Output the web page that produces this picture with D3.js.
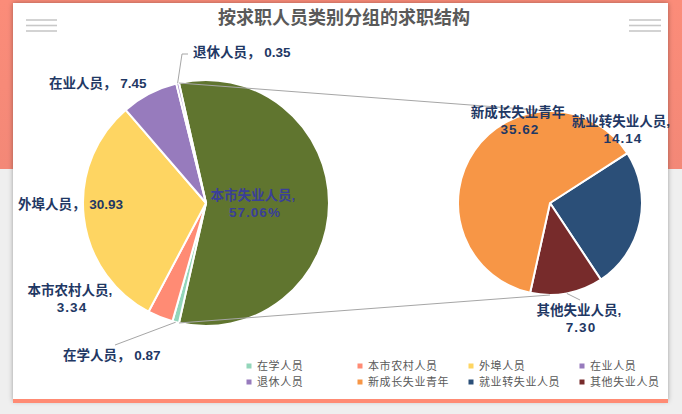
<!DOCTYPE html>
<html>
  <head>
    <meta charset="utf-8">
    <script type="text/javascript" src="https://d3js.org/d3.v7.min.js"></script>
    <style>
      body { margin:0; background:#efefef; }
      text { font-family:"Noto Sans CJK SC", "Noto Sans", sans-serif; }
      text.lbl { font-family:"Liberation Sans", "Noto Sans CJK SC", sans-serif; }
    </style>
  </head>
  <body>
  </body>
  <script>

// datos: primer pastel (todas las personas que buscan trabajo)
var cat1 = ["本市失业人员", "在学人员", "本市农村人员", "外埠人员", "在业人员", "退休人员"];
var val1 = [57.06, 0.87, 3.34, 30.93, 7.45, 0.35];
var col1 = ["#60752f", "#93d6ba", "#ff8b74", "#fed562", "#977bbd", "#9b80c2"];

// segundo pastel: desglose de 本市失业人员
var cat2 = ["就业转失业人员", "其他失业人员", "新成长失业青年"];
var val2 = [14.14, 7.30, 35.62];
var col2 = ["#2b4f78", "#772b2b", "#f79646"];

// orden de la leyenda
var legendCats = ["在学人员", "本市农村人员", "外埠人员", "在业人员", "退休人员", "新成长失业青年", "就业转失业人员", "其他失业人员"];
var legendCols = ["#93d6ba", "#ff8b74", "#fed562", "#977bbd", "#977bbd", "#f79646", "#2b4f78", "#772b2b"];

var title = "按求职人员类别分组的求职结构";

window.onload = function(){
  var W = 682, H = 414;
  var svg = d3.select("body").append("svg").attr("width", W).attr("height", H);

  // fondo
  var defs = svg.append("defs");
  var g1 = defs.append("linearGradient").attr("id", "coral").attr("x1", 0).attr("x2", 0).attr("y1", 0).attr("y2", 1);
  g1.append("stop").attr("offset", "0%").attr("stop-color", "#fb8c79");
  g1.append("stop").attr("offset", "100%").attr("stop-color", "#f38877");
  var f = defs.append("filter").attr("id", "sh").attr("x", "-5%").attr("y", "-5%").attr("width", "110%").attr("height", "110%");
  f.append("feDropShadow").attr("dx", 0).attr("dy", 0).attr("stdDeviation", 2.5).attr("flood-color", "#000").attr("flood-opacity", 0.35);

  svg.append("rect").attr("width", W).attr("height", H).attr("fill", "#efefef");
  svg.append("rect").attr("width", W).attr("height", 169).attr("fill", "url(#coral)");
  svg.append("rect").attr("x", 13).attr("y", 3).attr("width", 655).attr("height", 398)
     .attr("fill", "#fff").attr("filter", "url(#sh)");
  svg.append("rect").attr("x", 13).attr("y", 399).attr("width", 655).attr("height", 4).attr("fill", "#ff8b74");

  // iconos de menú
  [[26, 57], [629, 661]].forEach(function(p){
    [20, 25.5, 31].forEach(function(y){
      svg.append("line").attr("x1", p[0]).attr("x2", p[1]).attr("y1", y).attr("y2", y)
         .attr("stroke", "#c8c8c8").attr("stroke-width", 1.6);
    });
  });

  svg.append("text").attr("x", 344).attr("y", 18).attr("dy", "0.35em")
     .attr("text-anchor", "middle").attr("font-size", 18).attr("font-weight", "bold")
     .attr("fill", "#595959").text(title);

  // pastel 1
  var c1 = [206, 203], r1 = 123;
  var tot1 = d3.sum(val1);
  var a0 = Math.PI/2 - val1[0]/tot1*Math.PI;
  var pie1 = d3.pie().sort(null).startAngle(a0).endAngle(a0 + 2*Math.PI);
  var arcs1 = pie1(val1);
  var arc1 = d3.arc().innerRadius(0).outerRadius(r1);
  var gp1 = svg.append("g").attr("transform", "translate(" + c1 + ")");
  gp1.selectAll("path").data(arcs1).enter().append("path")
     .attr("d", arc1).attr("fill", function(d, i){ return col1[i]; })
     .attr("stroke", "#fff").attr("stroke-width", 2);

  // pastel 2
  var c2 = [550, 203], r2 = 92;
  var b0 = 57.2 * Math.PI / 180;
  var pie2 = d3.pie().sort(null).startAngle(b0).endAngle(b0 + 2*Math.PI);
  var arcs2 = pie2(val2);
  var arc2 = d3.arc().innerRadius(0).outerRadius(r2);
  var gp2 = svg.append("g").attr("transform", "translate(" + c2 + ")");
  gp2.selectAll("path").data(arcs2).enter().append("path")
     .attr("d", arc2).attr("fill", function(d, i){ return col2[i]; })
     .attr("stroke", "#fff").attr("stroke-width", 2);

  function pt(c, r, a){ return [c[0] + r*Math.sin(a), c[1] - r*Math.cos(a)]; }

  // líneas de conexión
  var pa = pt(c1, r1, arcs1[0].startAngle), pb = pt(c1, r1, arcs1[0].endAngle);
  svg.append("line").attr("x1", pa[0]).attr("y1", pa[1]).attr("x2", c2[0]).attr("y2", c2[1] - r2)
     .attr("stroke", "#a6a6a6").attr("stroke-width", 1);
  svg.append("line").attr("x1", pb[0]).attr("y1", pb[1]).attr("x2", c2[0]).attr("y2", c2[1] + r2)
     .attr("stroke", "#a6a6a6").attr("stroke-width", 1);

  // líneas guía de etiquetas
  function mid(d){ return (d.startAngle + d.endAngle)/2; }
  var guide = d3.line();
  var p5 = pt(c1, r1, mid(arcs1[5]));
  svg.append("path").attr("d", guide([p5, [182, 54], [188, 54]]))
     .attr("fill", "none").attr("stroke", "#a6a6a6");
  var p1 = pt(c1, r1, mid(arcs1[1]));
  svg.append("path").attr("d", guide([p1, [115, 345]]))
     .attr("fill", "none").attr("stroke", "#a6a6a6");
  var q1 = pt(c2, r2, mid(arcs2[1]));
  svg.append("path").attr("d", guide([q1, [580, 300]]))
     .attr("fill", "none").attr("stroke", "#a6a6a6");

  // etiquetas de datos: posición relativa al centro de cada pastel
  var fmt = d3.format(".2f");
  var lab1 = [
    {i:0, anchor:"middle", dx:47,  dy:-8,   two:true, pct:true},
    {i:1, anchor:"start",  dx:-143, dy:152},
    {i:2, anchor:"middle", dx:-136, dy:87,  two:true},
    {i:3, anchor:"start",  dx:-188, dy:1},
    {i:4, anchor:"start",  dx:-157, dy:-120},
    {i:5, anchor:"start",  dx:-13,  dy:-151}
  ];
  var lab2 = [
    {i:0, anchor:"middle", dx:71,  dy:-82, two:true},
    {i:1, anchor:"middle", dx:29,  dy:107, two:true},
    {i:2, anchor:"middle", dx:-32, dy:-91, two:true, nocomma:true}
  ];

  function labels(list, c, cats, vals){
    list.forEach(function(L){
      var v = L.pct ? fmt(vals[L.i]) + "%" : fmt(vals[L.i]);
      var t = svg.append("text").attr("class", "lbl").attr("text-anchor", L.anchor)
         .attr("font-size", 13.5).attr("font-weight", L.pct ? 600 : "bold")
         .attr("fill", L.pct ? "#3a3f98" : "#1f3864");
      if (L.two){
        t.append("tspan").attr("x", c[0] + L.dx).attr("y", c[1] + L.dy).attr("dy", "0.35em")
         .text(cats[L.i] + (L.nocomma ? "" : ","));
        t.append("tspan").attr("x", c[0] + L.dx + 2).attr("y", c[1] + L.dy + 17).attr("dy", "0.35em")
         .attr("letter-spacing", 1).text(v);
      } else {
        t.attr("x", c[0] + L.dx).attr("y", c[1] + L.dy).attr("dy", "0.35em")
         .text(cats[L.i] + "， " + v);
      }
    });
  }
  labels(lab1, c1, cat1, val1);
  labels(lab2, c2, cat2, val2);

  // leyenda
  var lx = d3.scalePoint().domain([0, 1, 2, 3]).range([249, 582]);
  var ly = d3.scalePoint().domain([0, 1]).range([366, 382]);
  var lg = svg.selectAll("g.leg").data(legendCats).enter().append("g").attr("class", "leg")
     .attr("transform", function(d, i){ return "translate(" + lx(i % 4) + "," + ly(Math.floor(i/4)) + ")"; });
  lg.append("rect").attr("x", -2.5).attr("y", -2.5).attr("width", 5).attr("height", 5)
     .attr("fill", function(d, i){ return legendCols[i]; });
  lg.append("text").attr("x", 8).attr("dy", "0.35em").attr("font-size", 11)
     .attr("letter-spacing", 0.6).attr("fill", "#595959").text(function(d){ return d; });
};

  </script>
</html>
